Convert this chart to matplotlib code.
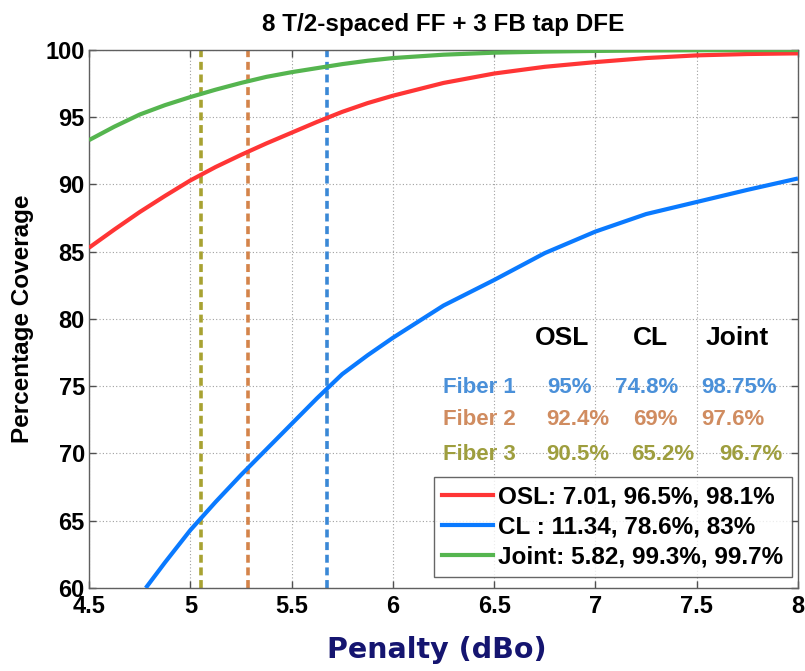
import matplotlib
matplotlib.use("Agg")
import matplotlib.pyplot as plt
from matplotlib.lines import Line2D

# Coverage vs. penalty curves (dBo -> % coverage)
penalty = [4.5, 4.625, 4.75, 4.875, 5.0, 5.125, 5.25, 5.375, 5.5, 5.625, 5.75, 5.875, 6.0,
           6.25, 6.5, 6.75, 7.0, 7.25, 7.5, 7.75, 8.0]
osl_cov = [85.3, 86.65, 87.95, 89.15, 90.3, 91.3, 92.2, 93.05, 93.85, 94.65, 95.4, 96.05, 96.6,
           97.55, 98.25, 98.75, 99.1, 99.4, 99.6, 99.7, 99.75]
joint_cov = [93.3, 94.3, 95.2, 95.9, 96.5, 97.05, 97.55, 98.0, 98.35, 98.65, 98.95, 99.2, 99.4,
             99.65, 99.8, 99.88, 99.93, 99.96, 99.98, 99.99, 100.0]

cl_penalty = [4.78, 4.875, 5.0, 5.125, 5.25, 5.375, 5.5, 5.625, 5.75, 5.875, 6.0,
              6.25, 6.5, 6.75, 7.0, 7.25, 7.5, 7.75, 8.0]
cl_cov = [60.0, 61.9, 64.3, 66.4, 68.4, 70.3, 72.2, 74.1, 75.9, 77.3, 78.6,
          81.0, 82.9, 84.9, 86.5, 87.8, 88.7, 89.6, 90.45]

legend_labels = ["OSL: 7.01, 96.5%, 98.1%", "CL : 11.34, 78.6%, 83%", "Joint: 5.82, 99.3%, 99.7%"]

# Per-fiber penalty markers and coverage table
fiber_names = ["Fiber 1", "Fiber 2", "Fiber 3"]
fiber_penalty = [5.677, 5.285, 5.054]
fiber_osl = ["95%", "92.4%", "90.5%"]
fiber_cl = ["74.8%", "69%", "65.2%"]
fiber_joint = ["98.75%", "97.6%", "96.7%"]
table_header = ["OSL", "CL", "Joint"]

x_ticks = [4.5, 5, 5.5, 6, 6.5, 7, 7.5, 8]
x_ticklabels = ["4.5", "5", "5.5", "6", "6.5", "7", "7.5", "8"]
y_ticks = [60, 65, 70, 75, 80, 85, 90, 95, 100]

RED = "#ff3535"
BLUE = "#0a7aff"
GREEN = "#55b54f"
fiber_line_colors = ["#3a88d6", "#d4844a", "#a8a232"]
fiber_text_colors = ["#4a90d9", "#d08c60", "#9e9e3e"]

plt.rcParams["font.family"] = ["Liberation Sans", "DejaVu Sans"]

fig = plt.figure(figsize=(8.05, 6.71), dpi=100)
ax = fig.add_axes([0.1106, 0.1237, 0.8807, 0.8018])

ax.plot(penalty, osl_cov, color=RED, lw=3.0, solid_capstyle="butt", zorder=3)
ax.plot(cl_penalty, cl_cov, color=BLUE, lw=3.0, solid_capstyle="butt", zorder=3)
ax.plot(penalty, joint_cov, color=GREEN, lw=3.0, solid_capstyle="butt", zorder=3)

for xp, c in zip(fiber_penalty, fiber_line_colors):
    ax.axvline(xp, color=c, lw=2.6, ls=(0, (2.2, 1.3)), zorder=2)

ax.set_xlim(4.5, 8)
ax.set_ylim(60, 100)
ax.set_xticks(x_ticks)
ax.set_xticklabels(x_ticklabels)
ax.set_yticks(y_ticks)
ax.grid(True, ls=(0, (1, 2)), color="#a0a0a0", lw=0.8)
ax.tick_params(direction="in", length=5, width=1, color="#505050",
               top=True, right=True, labelsize=17)
ax.tick_params(axis="y", pad=3)
ax.tick_params(axis="x", pad=5)
for lab in ax.get_xticklabels() + ax.get_yticklabels():
    lab.set_fontweight("bold")
for s in ax.spines.values():
    s.set_color("#606060")
    s.set_linewidth(1.0)

ax.set_title("8 T/2-spaced FF + 3 FB tap DFE", fontsize=17.5, fontweight="bold", pad=14)
ax.set_ylabel("Percentage Coverage", fontsize=17.5, fontweight="bold", labelpad=8)
ax.set_xlabel("Penalty (dBo)", fontsize=20.5, fontweight="bold", color="#151570",
              family="DejaVu Sans", labelpad=13)
ax.xaxis.label.set_x(0.49)

# coverage table
header_x = [6.835, 7.274, 7.699]
for hx, h in zip(header_x, table_header):
    ax.text(hx, 78.6, h, ha="center", va="center", fontsize=19, fontweight="bold", color="black")

row_y = [74.94, 72.55, 69.95]
col_x = [[6.87, 7.255, 7.709], [6.914, 7.294, 7.679], [6.914, 7.334, 7.768]]
for i in range(3):
    c = fiber_text_colors[i]
    ax.text(6.248, row_y[i], fiber_names[i], ha="left", va="center", fontsize=16,
            fontweight="bold", color=c)
    for cx, val in zip(col_x[i], [fiber_osl[i], fiber_cl[i], fiber_joint[i]]):
        ax.text(cx, row_y[i], val, ha="center", va="center", fontsize=16,
                fontweight="bold", color=c)

handles = [Line2D([], [], color=RED, lw=3),
           Line2D([], [], color=BLUE, lw=3),
           Line2D([], [], color=GREEN, lw=3)]
leg = ax.legend(handles, legend_labels, loc="lower right", bbox_to_anchor=(0.9915, 0.02),
                prop={"size": 17.5, "weight": "bold"}, frameon=True, fancybox=False,
                handlelength=2.1, handletextpad=0.2, labelspacing=0.3,
                borderpad=0.35, borderaxespad=0.0)
leg.get_frame().set_edgecolor("#404040")
leg.get_frame().set_linewidth(1.0)
leg.set_zorder(5)

fig.savefig("out.png", dpi=100)
